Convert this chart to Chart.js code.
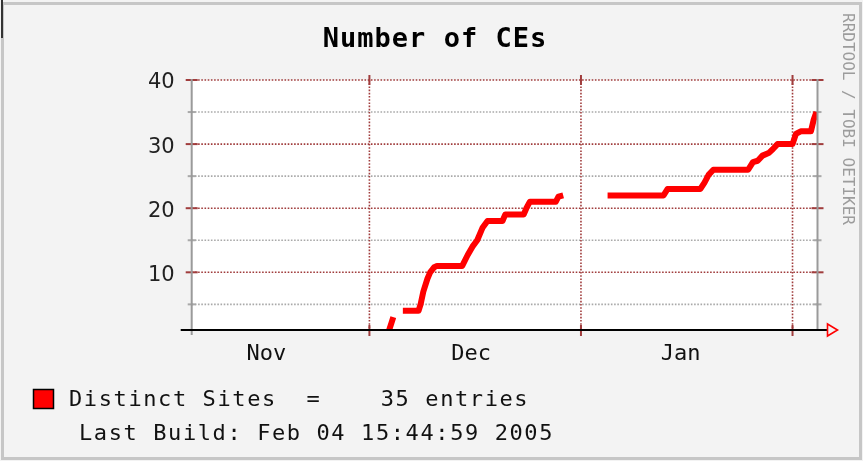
<!DOCTYPE html>
<html><head><meta charset="utf-8">
<script src="https://cdn.jsdelivr.net/npm/chart.js@4"></script>
<style>html,body{margin:0;padding:0;background:#fff;}canvas{display:block;}</style>
</head><body>
<canvas id="c" width="863" height="461"></canvas>
<script>
const titleText = 'Number of CEs';
// x values: days since Nov 1 2004 00:00
const xMin = 3.96, xMax = 95.66;
const monthStarts = [30, 61, 92];            // Dec 1, Jan 1, Feb 1
const monthLabels = ['Nov', 'Dec', 'Jan'];
const monthLabelPos = [14.9, 44.9, 75.6];
const yMin = 1, yMax = 40;
const yMajorTicks = [10, 20, 30, 40];
const yMinorTicks = [5, 15, 25, 35];
const days = [32.9, 33.2, 33.5, 34.2, 34.9, 37.2, 37.5, 37.9, 38.5, 38.9, 39.5, 39.9, 43.6, 44.4, 45.1, 45.8, 46.6, 47.3, 49.5, 49.9, 52.6, 53.0, 53.5, 57.3, 57.7, 58.4, 61.6, 64.9, 73.1, 73.7, 78.5, 79.1, 79.7, 80.4, 85.5, 86.2, 86.9, 87.6, 88.5, 89.1, 89.8, 92.0, 92.5, 93.2, 94.7, 95.1, 95.5];
const sites = [1, 2, 3, null, 4, 4, 5, 7, 9, 10, 10.8, 11, 11, 12.7, 14, 15, 17, 18, 18, 19, 19, 20, 21, 21, 21.8, 22, null, 22, 22, 23, 23, 24, 25.2, 26, 26, 27.2, 27.4, 28.2, 28.6, 29.2, 30, 30, 31.6, 32, 32, 33.8, 35];
const legendText = 'Distinct Sites  =    35 entries';
const buildText = 'Last Build: Feb 04 15:44:59 2005';
const sideText = 'RRDTOOL / TOBI OETIKER';

function seg(ctx, x1, y1, x2, y2) { ctx.beginPath(); ctx.moveTo(x1, y1); ctx.lineTo(x2, y2); ctx.stroke(); }

const deco = {
  id: 'deco',
  beforeDraw(chart) {
    const { ctx } = chart;
    ctx.save();
    ctx.fillStyle = '#f3f3f3';
    ctx.fillRect(0, 0, chart.width, chart.height);
    ctx.strokeStyle = '#c6c6c6'; ctx.lineWidth = 3;
    ctx.strokeRect(2.5, 3.5, 858, 455);
    ctx.fillStyle = '#333'; ctx.fillRect(1, 0, 2, 38);
    ctx.restore();
  },
  beforeDatasetsDraw(chart) {
    const { ctx, chartArea: a, scales: { x, y } } = chart;
    ctx.save();
    ctx.fillStyle = '#ffffff';
    ctx.fillRect(a.left, a.top, a.right - a.left, a.bottom - a.top);
    ctx.lineWidth = 1.6;
    ctx.setLineDash([1.6, 1.6]);
    ctx.strokeStyle = '#a9a9a9';
    yMinorTicks.forEach(v => { const p = y.getPixelForValue(v); seg(ctx, a.left, p, a.right, p); });
    ctx.strokeStyle = '#a03c3c';
    yMajorTicks.forEach(v => { const p = y.getPixelForValue(v); seg(ctx, a.left, p, a.right, p); });
    monthStarts.forEach(v => { const p = x.getPixelForValue(v); seg(ctx, p, a.top, p, a.bottom); });
    ctx.setLineDash([]);
    ctx.lineWidth = 2;
    ctx.strokeStyle = '#a9a9a9';
    yMinorTicks.forEach(v => { const p = y.getPixelForValue(v); seg(ctx, a.left - 4, p, a.left + 4, p); seg(ctx, a.right - 4, p, a.right + 4, p); });
    ctx.strokeStyle = '#a03c3c';
    yMajorTicks.forEach(v => { const p = y.getPixelForValue(v); seg(ctx, a.left - 6, p, a.left + 6, p); seg(ctx, a.right - 6, p, a.right + 6, p); });
    monthStarts.forEach(v => { const p = x.getPixelForValue(v); seg(ctx, p, a.top - 5, p, a.top + 5); seg(ctx, p, a.bottom - 5, p, a.bottom + 6); });
    ctx.restore();
  },
  afterDatasetsDraw(chart) {
    const { ctx, chartArea: a } = chart;
    ctx.save();
    ctx.lineWidth = 2;
    ctx.strokeStyle = '#9a9a9a';
    seg(ctx, a.left, a.top - 1, a.left, a.bottom + 5);
    seg(ctx, a.right, a.top - 1, a.right, a.bottom);
    ctx.strokeStyle = '#000';
    seg(ctx, a.left - 11, a.bottom, a.right + 10, a.bottom);
    ctx.strokeStyle = '#ff0000'; ctx.lineWidth = 1.6;
    ctx.beginPath();
    ctx.moveTo(a.right + 10, a.bottom - 6); ctx.lineTo(a.right + 20, a.bottom);
    ctx.lineTo(a.right + 10, a.bottom + 6); ctx.closePath(); ctx.stroke();
    ctx.restore();
  },
  afterDraw(chart) {
    const { ctx } = chart;
    ctx.save();
    ctx.fillStyle = '#000';
    ctx.letterSpacing = '1px';
    ctx.font = 'bold 27px "DejaVu Sans Mono"';
    ctx.textAlign = 'center'; ctx.textBaseline = 'alphabetic';
    ctx.fillText(titleText, 435, 47);
    ctx.textAlign = 'left';
    ctx.letterSpacing = '1.6px';
    ctx.font = '22px "DejaVu Sans Mono"';
    ctx.fillStyle = '#111';
    ctx.fillText(legendText, 69, 406);
    ctx.fillText(buildText, 79, 440);
    ctx.fillStyle = '#ff0000';
    ctx.fillRect(33, 389, 21, 20);
    ctx.strokeStyle = '#000'; ctx.lineWidth = 1.5;
    ctx.strokeRect(33.5, 389.5, 20, 19);
    ctx.letterSpacing = '0px';
    ctx.translate(843, 13);
    ctx.rotate(Math.PI / 2);
    ctx.font = '16px "DejaVu Sans Mono"';
    ctx.fillStyle = '#9c9c9c';
    ctx.fillText(sideText, 0, 0);
    ctx.restore();
  }
};

new Chart(document.getElementById('c'), {
  type: 'line',
  data: {
    datasets: [{
      label: 'Distinct Sites',
      data: days.map((d, i) => ({ x: d, y: sites[i] })),
      borderColor: '#ff0000',
      borderWidth: 6,
      pointRadius: 0,
      tension: 0,
      spanGaps: false,
      fill: false,
      borderJoinStyle: 'round'
    }]
  },
  options: {
    responsive: false,
    animation: false,
    devicePixelRatio: 1,
    layout: { padding: { top: 80, right: 45.5, left: 0, bottom: 0 } },
    plugins: { legend: { display: false }, title: { display: false }, tooltip: { enabled: false } },
    scales: {
      x: {
        type: 'linear', min: xMin, max: xMax,
        afterBuildTicks: s => { s.ticks = monthLabelPos.map(v => ({ value: v })); },
        afterFit: s => { s.height = 131; },
        ticks: { callback: (v, i) => monthLabels[i], font: { family: 'DejaVu Sans Mono', size: 22 }, color: '#111', padding: 11, maxRotation: 0, autoSkip: false },
        grid: { display: false, drawTicks: false },
        border: { display: false }
      },
      y: {
        type: 'linear', min: yMin, max: yMax,
        afterBuildTicks: s => { s.ticks = yMajorTicks.map(v => ({ value: v })); },
        afterFit: s => { s.width = 191.7; },
        ticks: { font: { family: 'DejaVu Sans', size: 21 }, color: '#222', padding: 17, labelOffset: 3 },
        grid: { display: false, drawTicks: false },
        border: { display: false }
      }
    }
  },
  plugins: [deco]
});
</script>
</body></html>
